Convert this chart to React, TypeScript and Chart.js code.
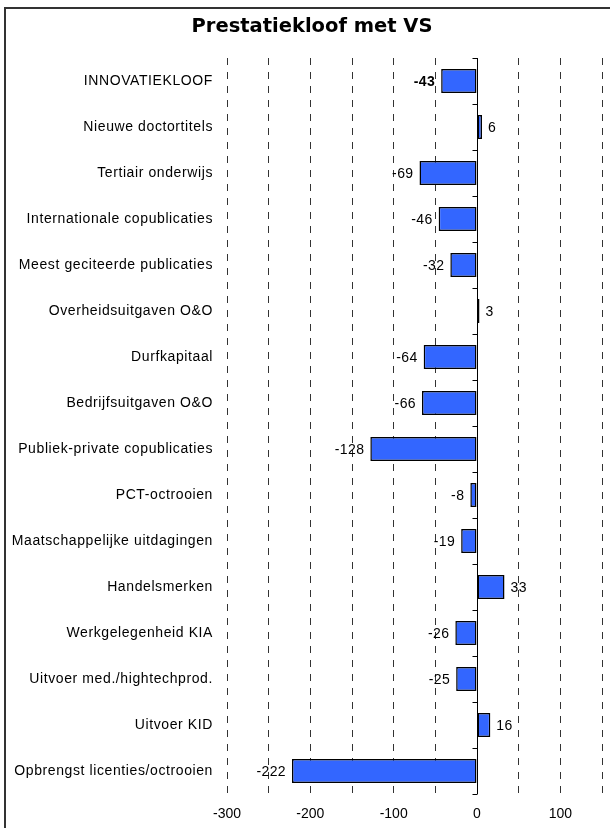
import React, { useEffect, useRef } from "react";
import { Chart, registerables } from "chart.js";

Chart.register(...registerables);

const TITLE = "Prestatiekloof met VS";
const CATEGORIES = [
  "INNOVATIEKLOOF",
  "Nieuwe doctortitels",
  "Tertiair onderwijs",
  "Internationale copublicaties",
  "Meest geciteerde publicaties",
  "Overheidsuitgaven O&O",
  "Durfkapitaal",
  "Bedrijfsuitgaven O&O",
  "Publiek-private copublicaties",
  "PCT-octrooien",
  "Maatschappelijke uitdagingen",
  "Handelsmerken",
  "Werkgelegenheid KIA",
  "Uitvoer med./hightechprod.",
  "Uitvoer KID",
  "Opbrengst licenties/octrooien",
];
const VALUES = [-43, 6, -69, -46, -32, 3, -64, -66, -128, -8, -19, 33, -26, -25, 16, -222];
const X_MIN = -300;
const X_MAX = 150;
const X_STEP = 50;
const X_LABEL_STEP = 100;
const BOLD_INDEX = [0];

const FONT = "'Liberation Sans', Arial, sans-serif";

const spacingPlugin = {
  id: "letterSpacingTicks",
  afterLayout(chart: any) {
    const t: any = chart.titleBlock;
    if (t) {
      t.left = 22;
    }
    const s: any = chart.scales.y;
    if (!s || s.__ls) return;
    const orig = s.drawLabels.bind(s);
    s.drawLabels = (ca: any) => {
      const ctx: any = chart.ctx;
      ctx.save();
      ctx.letterSpacing = "0.6px";
      orig(ca);
      ctx.restore();
    };
    s.__ls = true;
  },
};

const zeroAxisPlugin = {
  id: "zeroAxis",
  afterDatasetsDraw(chart: any) {
    const { ctx, chartArea } = chart;
    const xs = chart.scales.x;
    const x0 = Math.round(xs.getPixelForValue(0)) + 0.5;
    const n = CATEGORIES.length;
    const h = (chartArea.bottom - chartArea.top) / n;
    ctx.save();
    ctx.strokeStyle = "#000";
    ctx.lineWidth = 1;
    ctx.beginPath();
    ctx.moveTo(x0, chartArea.top);
    ctx.lineTo(x0, chartArea.bottom);
    for (let i = 0; i <= n; i++) {
      const y = Math.round(chartArea.top + i * h) + 0.5;
      ctx.moveTo(x0 - 5, y);
      ctx.lineTo(x0, y);
    }
    ctx.stroke();
    ctx.restore();
  },
};

const labelPlugin = {
  id: "valueLabels",
  afterDatasetsDraw(chart: any) {
    const { ctx } = chart;
    const meta = chart.getDatasetMeta(0);
    ctx.save();
    (ctx as any).letterSpacing = "0.4px";
    ctx.fillStyle = "#000";
    ctx.textBaseline = "middle";
    meta.data.forEach((bar: any, i: number) => {
      const v = VALUES[i];
      const bold = BOLD_INDEX.includes(i);
      ctx.font = `${bold ? "bold " : ""}14px ${FONT}`;
      if (v < 0) {
        ctx.textAlign = "right";
        ctx.fillText(String(v), bar.x - 6, bar.y + 1);
      } else {
        ctx.textAlign = "left";
        ctx.fillText(String(v), bar.x + 6, bar.y + 1);
      }
    });
    ctx.restore();
  },
};

export default function App() {
  const ref = useRef<HTMLCanvasElement>(null);

  useEffect(() => {
    document.body.style.margin = "0";
    if (!ref.current) return;
    const chart = new Chart(ref.current, {
      type: "bar",
      data: {
        labels: CATEGORIES,
        datasets: [
          {
            data: VALUES,
            backgroundColor: "#3366FF",
            borderColor: "#000",
            borderWidth: 1.5,
            borderSkipped: false,
            barPercentage: 0.52,
            categoryPercentage: 1,
          },
        ],
      },
      options: {
        indexAxis: "y",
        responsive: false,
        animation: false,
        layout: { padding: { left: 0, right: 8, top: 0, bottom: 0 } },
        plugins: {
          legend: { display: false },
          tooltip: { enabled: false },
          title: {
            display: true,
            text: TITLE,
            color: "#000",
            font: { family: "'DejaVu Sans', Verdana, sans-serif", size: 19.5, weight: "bold" },
            padding: { top: 15.5, bottom: 19.1 },
          },
        },
        scales: {
          x: {
            min: X_MIN,
            max: X_MAX,
            border: {
              display: false,
              dash: (c: any) => (c.tick && c.tick.value === 0 ? [] : [7, 7]),
            },
            grid: {
              color: (c: any) => (c.tick && c.tick.value === 0 ? "#000" : "#333"),
              lineWidth: 1,
              drawTicks: false,
            },
            ticks: {
              stepSize: X_STEP,
              autoSkip: false,
              maxRotation: 0,
              padding: 12,
              color: "#000",
              font: { family: FONT, size: 14 },
              callback: (v: any) => (Number(v) % X_LABEL_STEP === 0 ? String(v) : ""),
            },
            afterFit: (s: any) => {
              s.height = 34;
              s.paddingLeft = 0;
              s.paddingRight = 0;
            },
          },
          y: {
            border: { display: false },
            grid: { display: false, drawTicks: false },
            ticks: {
              autoSkip: false,
              padding: 14,
              color: "#000",
              font: { family: FONT, size: 14 },
            },
            afterFit: (s: any) => {
              s.width = 227;
            },
          },
        },
      },
      plugins: [spacingPlugin, zeroAxisPlugin, labelPlugin],
    } as any);
    return () => chart.destroy();
  }, []);

  return (
    <div style={{ position: "relative", width: 610, height: 828, overflow: "hidden", background: "#fff" }}>
      <canvas ref={ref} width={610} height={828} style={{ position: "absolute", left: 0, top: 0 }} />
      <div
        style={{
          position: "absolute",
          left: 4,
          top: 7,
          width: 800,
          height: 1000,
          border: "2px solid #333",
          boxSizing: "border-box",
          pointerEvents: "none",
        }}
      />
    </div>
  );
}
